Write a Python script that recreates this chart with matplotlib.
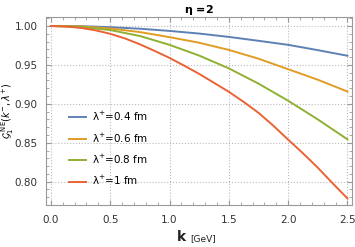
import matplotlib
matplotlib.use("Agg")
import matplotlib.pyplot as plt
from matplotlib.ticker import MultipleLocator

k = [0.0, 0.25, 0.5, 0.75, 1.0, 1.25, 1.5, 1.75, 2.0, 2.25, 2.5]
k_fine = [0.0, 0.125, 0.25, 0.375, 0.5, 0.625, 0.75, 0.875, 1.0, 1.125, 1.25,
          1.375, 1.5, 1.625, 1.75, 1.875, 2.0, 2.125, 2.25, 2.375, 2.5]
g_04 = [1.0, 0.9998, 0.9985, 0.9965, 0.9937, 0.9903, 0.986, 0.981, 0.9758, 0.969, 0.9618]
g_06 = [1.0, 0.9995, 0.9968, 0.9922, 0.9857, 0.9785, 0.9693, 0.958, 0.9445, 0.931, 0.9158]
g_08 = [1.0, 0.9988, 0.9948, 0.9872, 0.9758, 0.962, 0.9456, 0.926, 0.904, 0.880, 0.8544]
g_10 = [1.0, 0.9994, 0.9976, 0.9945, 0.990, 0.984, 0.9765, 0.968, 0.959, 0.949, 0.9385,
        0.927, 0.9155, 0.9025, 0.8885, 0.872, 0.854, 0.8365, 0.818, 0.798, 0.7785]
labels = [r"$\mathregular{\lambda^{+}}$=0.4 fm", r"$\mathregular{\lambda^{+}}$=0.6 fm",
          r"$\mathregular{\lambda^{+}}$=0.8 fm", r"$\mathregular{\lambda^{+}}$=1 fm"]
colors = ["#5E81B5", "#E19C24", "#8FB032", "#EB6235"]

plt.rcParams['font.family'] = ['DejaVu Sans']
plt.rcParams['mathtext.fontset'] = 'dejavusans'

fig = plt.figure(figsize=(3.55, 2.47), dpi=100)
ax = fig.add_axes([0.13, 0.17, 0.862, 0.76])

for kk, y, c, l in zip([k, k, k, k_fine], [g_04, g_06, g_08, g_10], colors, labels):
    ax.plot(kk, y, color=c, lw=1.4, label=l)

ax.set_xlim(-0.04, 2.54)
ax.set_ylim(0.770, 1.0112)
ax.xaxis.set_major_locator(MultipleLocator(0.5))
ax.xaxis.set_minor_locator(MultipleLocator(0.1))
ax.yaxis.set_major_locator(MultipleLocator(0.05))
ax.yaxis.set_minor_locator(MultipleLocator(0.01))
ax.grid(True, which='major', linestyle=':', color='#BBBBBB', lw=0.8)
for s in ax.spines.values():
    s.set_color('#999999')
    s.set_linewidth(0.8)
ax.tick_params(which='both', direction='in', top=True, right=True, color='#999999',
               labelsize=7.5, labelcolor='#333333')
ax.tick_params(which='major', length=3.5)
ax.tick_params(which='minor', length=2)
ax.tick_params(axis='y', pad=6)
ax.tick_params(axis='x', pad=7)
ax.set_xticklabels([f"{v:.1f}" for v in ax.get_xticks()])
ax.set_yticklabels([f"{v:.2f}" for v in ax.get_yticks()])

ax.set_title(r"$\mathbf{\eta}$ =2", fontsize=8, fontweight='bold', pad=3)
fig.text(0.51, 0.025, "k", fontsize=10, fontweight='bold', color='#222222', ha='center', va='baseline')
fig.text(0.535, 0.025, "[GeV]", fontsize=6.5, color='#222222', ha='left', va='baseline')
ax.set_ylabel(r"$\mathcal{G}_1^{\ \mathrm{NE}}(k^{-},\lambda^{+})$", fontsize=7,
              va='center', ha='center')
ax.yaxis.set_label_coords(-0.127, 0.5)

ax.legend(loc='center left', bbox_to_anchor=(0.045, 0.3), frameon=False, fontsize=7.5,
          handlelength=1.6, labelspacing=0.8, handletextpad=0.6)

fig.savefig("out.png", dpi=100)
